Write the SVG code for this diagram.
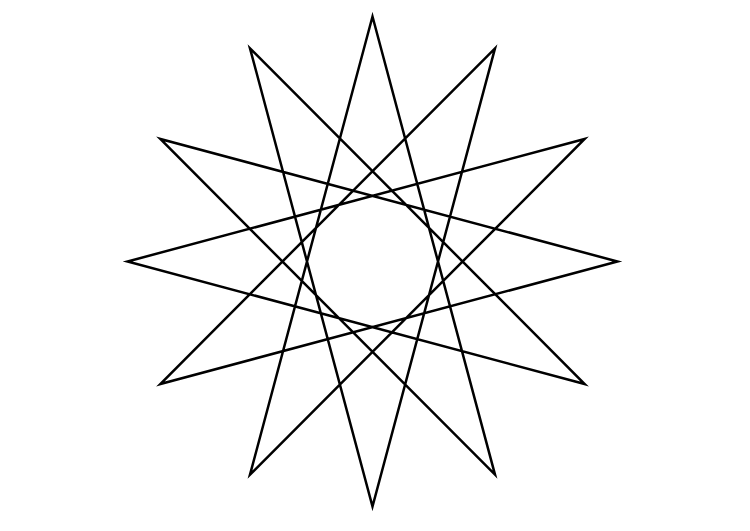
<svg xmlns="http://www.w3.org/2000/svg" width="750" height="531" viewBox="0 0 750 531">
<style>.star{fill:none;stroke:#000;stroke-width:2.5;stroke-linejoin:miter;stroke-miterlimit:20}</style>
<rect width="750" height="531" fill="#fff"/>
<polygon class="star" points="372.5,16.5 495,474.68 160.32,139 617.5,261.5 160.32,384 495,48.32 372.5,506.5 250,48.32 584.68,384 127.5,261.5 584.68,139 250,474.68"/>
</svg>
